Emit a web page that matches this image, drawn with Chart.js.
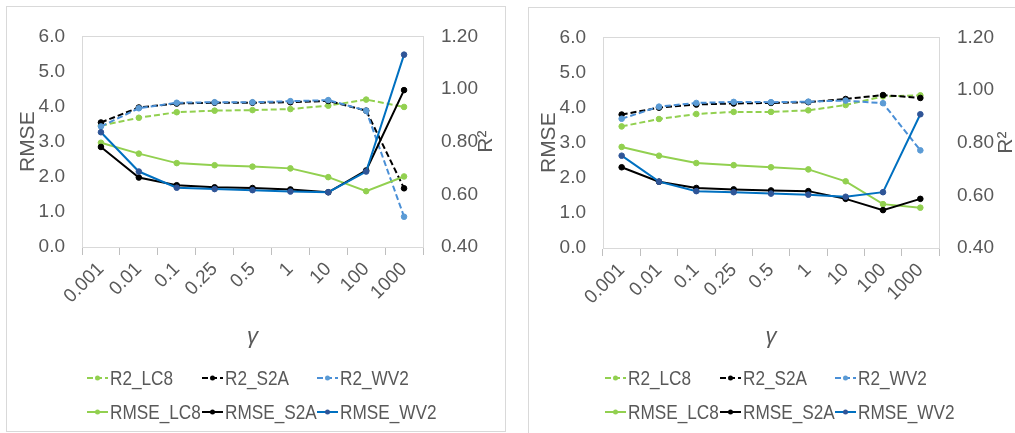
<!DOCTYPE html>
<html>
<head>
<meta charset="utf-8">
<script src="https://cdn.jsdelivr.net/npm/chart.js@4"></script>
<style>
  body { margin: 0; background: #fff; width: 1015px; height: 433px; overflow: hidden; position: relative; }
  .panel { position: absolute; border: 1px solid #d9d9d9; background: #fff; }
  #p1 { left: 6px; top: 6px; width: 498px; height: 424px; }
  #p2 { left: 528px; top: 7px; width: 490px; height: 430px; }
  canvas { display: block; }
</style>
</head>
<body>
<div class="panel" id="p1"><canvas id="c1" width="498" height="424"></canvas></div>
<div class="panel" id="p2"><canvas id="c2" width="486" height="425"></canvas></div>
<script>
const gammaLabels = ['0.001', '0.01', '0.1', '0.25', '0.5', '1', '10', '100', '1000'];
const seriesNames = ['R2_LC8', 'R2_S2A', 'R2_WV2', 'RMSE_LC8', 'RMSE_S2A', 'RMSE_WV2'];
const rmseTicks = [0, 1, 2, 3, 4, 5, 6];
const r2Ticks = [0.4, 0.6, 0.8, 1.0, 1.2];

// left panel
const r2LC8A = [0.861, 0.891, 0.912, 0.918, 0.920, 0.924, 0.937, 0.960, 0.932];
const r2S2AA = [0.873, 0.930, 0.945, 0.948, 0.948, 0.950, 0.955, 0.918, 0.623];
const r2WV2A = [0.858, 0.927, 0.948, 0.950, 0.950, 0.954, 0.958, 0.918, 0.515];
const rmseLC8A = [2.97, 2.66, 2.39, 2.33, 2.29, 2.24, 1.99, 1.59, 2.01];
const rmseS2AA = [2.85, 1.98, 1.76, 1.70, 1.68, 1.64, 1.56, 2.18, 4.47];
const rmseWV2A = [3.27, 2.15, 1.69, 1.65, 1.62, 1.58, 1.56, 2.15, 5.48];

// right panel
const r2LC8B = [0.862, 0.890, 0.909, 0.917, 0.917, 0.923, 0.943, 0.976, 0.980];
const r2S2AB = [0.907, 0.933, 0.945, 0.949, 0.951, 0.954, 0.966, 0.981, 0.970];
const r2WV2B = [0.891, 0.937, 0.951, 0.955, 0.954, 0.956, 0.960, 0.950, 0.771];
const rmseLC8B = [2.88, 2.63, 2.42, 2.36, 2.30, 2.24, 1.90, 1.25, 1.15];
const rmseS2AB = [2.30, 1.89, 1.71, 1.67, 1.64, 1.62, 1.40, 1.08, 1.40];
const rmseWV2B = [2.63, 1.89, 1.62, 1.59, 1.55, 1.52, 1.46, 1.59, 3.81];

const FONT = "'Liberation Sans', Arial, sans-serif";
const GREY = '#595959';
const styles = [
  { color: '#92D050', point: '#92D050', dash: [6, 3], axis: 'y1' },
  { color: '#000000', point: '#000000', dash: [6, 3], axis: 'y1' },
  { color: '#4A8FD6', point: '#5B9BD5', dash: [6, 3], axis: 'y1' },
  { color: '#92D050', point: '#92D050', dash: [], axis: 'y' },
  { color: '#000000', point: '#000000', dash: [], axis: 'y' },
  { color: '#0070C0', point: '#2F5597', dash: [], axis: 'y' },
];

const boxPlugin = {
  id: 'box',
  beforeDatasetsDraw(chart) {
    const a = chart.chartArea, ctx = chart.ctx;
    ctx.save();
    ctx.strokeStyle = '#d9d9d9';
    ctx.lineWidth = 1;
    ctx.strokeRect(Math.round(a.left) + 0.5, Math.round(a.top) + 0.5, Math.round(a.right - a.left), Math.round(a.bottom - a.top));
    ctx.restore();
  }
};

// narrow-looking text, like the condensed font of the original
function narrowText(ctx, text, x, y, size) {
  ctx.save();
  ctx.translate(x, y);
  ctx.scale(0.86, 1);
  ctx.font = size + 'px ' + FONT;
  ctx.fillText(text, 0, 0);
  ctx.restore();
}

const extrasPlugin = {
  id: 'extras',
  afterDraw(chart, args, opts) {
    const ctx = chart.ctx, a = chart.chartArea;
    ctx.save();
    // right axis title, reading bottom to top
    ctx.fillStyle = GREY;
    ctx.font = '21px ' + FONT;
    ctx.textAlign = 'center';
    ctx.textBaseline = 'middle';
    ctx.translate(opts.r2X, (a.top + a.bottom) / 2);
    ctx.rotate(-Math.PI / 2);
    ctx.fillText('R\u00B2', 0, 0);
    ctx.restore();

    // legend, 3 columns x 2 rows
    ctx.save();
    chart.data.datasets.forEach((ds, i) => {
      const col = i % 3, row = Math.floor(i / 3);
      const x0 = a.left + opts.legendDx + col * 115;
      const y = opts.rows[row];
      ctx.strokeStyle = ds.borderColor;
      ctx.lineWidth = 2;
      ctx.setLineDash(ds.borderDash);
      ctx.beginPath();
      ctx.moveTo(x0, y);
      ctx.lineTo(x0 + 21, y);
      ctx.stroke();
      ctx.setLineDash([]);
      ctx.fillStyle = ds.pointBackgroundColor;
      ctx.beginPath();
      ctx.arc(x0 + 10.5, y, 2.5, 0, Math.PI * 2);
      ctx.fill();
      ctx.fillStyle = GREY;
      ctx.textAlign = 'left';
      ctx.textBaseline = 'middle';
      narrowText(ctx, ds.label, x0 + 23, y + 1, 20);
    });
    ctx.restore();
  }
};

function makeChart(id, values, area, pad, r2X, rows, legendDx) {
  const canvas = document.getElementById(id);
  const W = canvas.width, H = canvas.height;
  const datasets = values.map((vals, i) => ({
    label: seriesNames[i],
    data: vals,
    yAxisID: styles[i].axis,
    borderColor: styles[i].color,
    backgroundColor: styles[i].color,
    pointBackgroundColor: styles[i].point,
    pointBorderColor: styles[i].point,
    borderDash: styles[i].dash,
    borderWidth: 2,
    pointRadius: 2.8,
    pointBorderWidth: 1,
    tension: 0,
    order: -i,
  }));

  new Chart(canvas, {
    type: 'line',
    data: { labels: gammaLabels, datasets },
    options: {
      responsive: false,
      animation: false,
      layout: { padding: { left: pad.left, right: 0, top: area.top, bottom: pad.bottom } },
      plugins: {
        legend: { display: false },
        tooltip: { enabled: false },
        extras: { r2X, rows, legendDx },
      },
      scales: {
        x: {
          offset: true,
          grid: { display: true, drawOnChartArea: false, drawTicks: true, tickLength: 8, color: '#bfbfbf', offset: true },
          border: { color: '#bfbfbf' },
          ticks: { color: GREY, font: { family: FONT, size: 19 }, minRotation: 45, maxRotation: 45, autoSkip: false, padding: 3 },
          title: { display: true, text: '\u03B3', color: GREY, font: { family: FONT, size: 22, style: 'italic' }, padding: { top: 0, bottom: 4 } },
          afterFit(s) { s.height = H - pad.bottom - area.bottom; },
        },
        y: {
          position: 'left',
          min: 0, max: 6,
          afterBuildTicks(s) { s.ticks = rmseTicks.map(v => ({ value: v })); },
          grid: { display: false, drawTicks: false },
          border: { color: '#d9d9d9' },
          ticks: { color: GREY, font: { family: FONT, size: 19 }, padding: 17, callback: v => v.toFixed(1) },
          title: { display: true, text: 'RMSE', color: GREY, font: { family: FONT, size: 21 } },
          afterFit(s) { s.width = area.left - pad.left; },
        },
        y1: {
          position: 'right',
          min: 0.4, max: 1.2,
          afterBuildTicks(s) { s.ticks = r2Ticks.map(v => ({ value: v })); },
          grid: { display: false, drawTicks: false },
          border: { color: '#d9d9d9' },
          ticks: { color: GREY, font: { family: FONT, size: 19 }, padding: 18, callback: v => v.toFixed(2) },
          afterFit(s) { s.width = W - area.right; },
        },
      },
    },
    plugins: [boxPlugin, extrasPlugin],
  });
}

makeChart('c1',
  [r2LC8A, r2S2AA, r2WV2A, rmseLC8A, rmseS2AA, rmseWV2A],
  { left: 75, right: 416, top: 20, bottom: 240 },
  { left: 5, bottom: 77 },
  479, [371, 405], 5);

makeChart('c2',
  [r2LC8B, r2S2AB, r2WV2B, rmseLC8B, rmseS2AB, rmseWV2B],
  { left: 74, right: 410, top: 19, bottom: 240 },
  { left: 4, bottom: 79 },
  477, [370, 404], 2);
</script>
</body>
</html>
